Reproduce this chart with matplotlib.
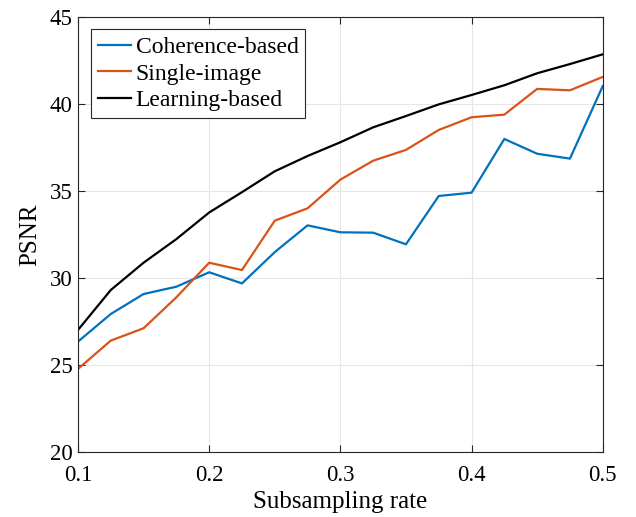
import matplotlib
matplotlib.use("Agg")
import matplotlib.pyplot as plt

plt.rcParams['font.family'] = ['Liberation Serif', 'DejaVu Serif']
plt.rcParams['mathtext.fontset'] = 'stix'

rates = [0.1, 0.125, 0.15, 0.175, 0.2, 0.225, 0.25, 0.275, 0.3, 0.325,
         0.35, 0.375, 0.4, 0.425, 0.45, 0.475, 0.5]
coherence = [26.35, 27.94, 29.09, 29.51, 30.34, 29.7, 31.5, 33.04, 32.64, 32.62,
             31.95, 34.73, 34.92, 38.01, 37.16, 36.88, 41.05]
single = [24.78, 26.41, 27.12, 28.9, 30.89, 30.47, 33.31, 34.02, 35.67, 36.76,
          37.38, 38.53, 39.26, 39.41, 40.89, 40.81, 41.58]
learning = [27.02, 29.32, 30.89, 32.25, 33.78, 34.95, 36.15, 37.03, 37.82, 38.68,
            39.33, 40.0, 40.54, 41.1, 41.79, 42.32, 42.88]
labels = ['Coherence-based', 'Single-image', 'Learning-based']
colors = ['#0072BD', '#D95319', '#000000']

fig = plt.figure(figsize=(6.36, 5.17), dpi=100)
ax = fig.add_axes([0.1226, 0.1257, 0.8251, 0.8405])
for ys, lab, c in zip([coherence, single, learning], labels, colors):
    ax.plot(rates, ys, color=c, lw=1.6, label=lab)

ax.set_xlim(0.1, 0.5)
ax.set_ylim(20, 45)
ax.set_xticks([0.1, 0.2, 0.3, 0.4, 0.5])
ax.set_yticks([20, 25, 30, 35, 40, 45])
ax.grid(True, color='#e6e6e6', lw=0.8)
ax.set_axisbelow(True)
ax.tick_params(direction='in', top=True, right=True, labelsize=16.5, length=5,
               color='#262626', width=0.8)
ax.tick_params(axis='x', pad=9)
ax.tick_params(axis='y', pad=4)
for s in ax.spines.values():
    s.set_color('#262626')
    s.set_linewidth(0.8)
ax.set_xlabel('Subsampling rate', fontsize=18, labelpad=4)
ax.set_ylabel('PSNR', fontsize=18, labelpad=6)
leg = ax.legend(loc='upper left', fontsize=17, frameon=True, fancybox=False,
                edgecolor='#262626', framealpha=1, borderpad=0.3,
                handlelength=1.4, labelspacing=0.22, handletextpad=0.2,
                borderaxespad=0, bbox_to_anchor=(0.0242, 0.9729))
leg.get_frame().set_linewidth(0.8)
fig.savefig('out.png', dpi=100)
